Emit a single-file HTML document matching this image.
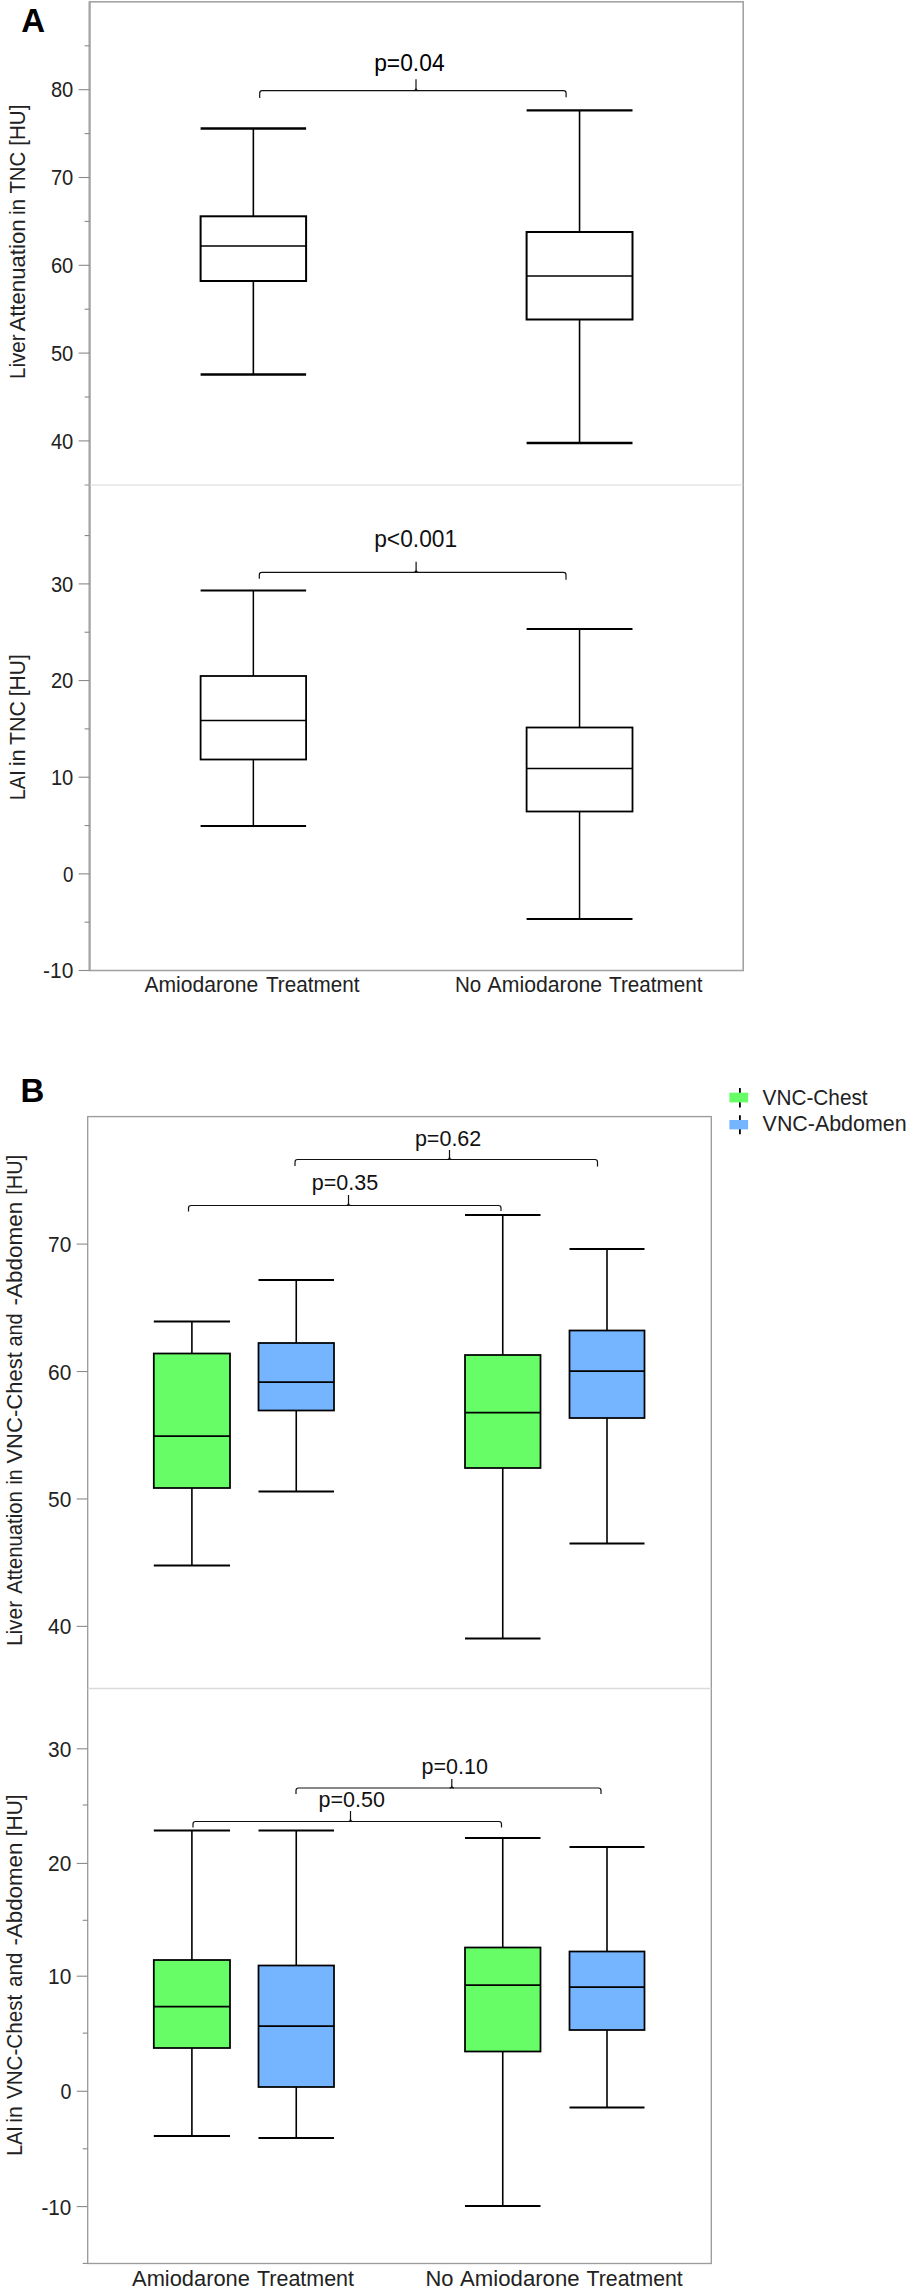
<!DOCTYPE html><html><head><meta charset="utf-8"><title>Figure</title>
<style>html,body{margin:0;padding:0;background:#fff}svg{display:block}text{font-family:"Liberation Sans",sans-serif}</style></head><body>
<svg width="908" height="2290" viewBox="0 0 908 2290">
<rect width="908" height="2290" fill="#fff"/>
<rect x="89.6" y="1.8" width="653.6" height="968.7" fill="none" stroke="#a3a3a3" stroke-width="1.6"/>
<line x1="89.6" y1="1.8" x2="89.6" y2="970.5" stroke="#a3a3a3" stroke-width="2.0" />
<line x1="89.6" y1="485" x2="743.2" y2="485" stroke="#dadada" stroke-width="1.2" />
<line x1="84.6" y1="485" x2="89.6" y2="485" stroke="#9a9a9a" stroke-width="1.1" />
<text x="21.3" y="32.4" font-size="33" text-anchor="start" font-weight="bold" fill="#000">A</text>
<line x1="78.6" y1="89.7" x2="89.6" y2="89.7" stroke="#8a8a8a" stroke-width="1.1" />
<line x1="78.6" y1="177.5" x2="89.6" y2="177.5" stroke="#8a8a8a" stroke-width="1.1" />
<line x1="78.6" y1="265.3" x2="89.6" y2="265.3" stroke="#8a8a8a" stroke-width="1.1" />
<line x1="78.6" y1="353.09999999999997" x2="89.6" y2="353.09999999999997" stroke="#8a8a8a" stroke-width="1.1" />
<line x1="78.6" y1="440.9" x2="89.6" y2="440.9" stroke="#8a8a8a" stroke-width="1.1" />
<line x1="84.6" y1="45.800000000000004" x2="89.6" y2="45.800000000000004" stroke="#8a8a8a" stroke-width="1.1" />
<line x1="84.6" y1="133.6" x2="89.6" y2="133.6" stroke="#8a8a8a" stroke-width="1.1" />
<line x1="84.6" y1="221.39999999999998" x2="89.6" y2="221.39999999999998" stroke="#8a8a8a" stroke-width="1.1" />
<line x1="84.6" y1="309.2" x2="89.6" y2="309.2" stroke="#8a8a8a" stroke-width="1.1" />
<line x1="84.6" y1="396.99999999999994" x2="89.6" y2="396.99999999999994" stroke="#8a8a8a" stroke-width="1.1" />
<text x="73.3" y="97.4" font-size="21.5" text-anchor="end" font-weight="normal" fill="#222" textLength="22.4" lengthAdjust="spacingAndGlyphs">80</text>
<text x="73.3" y="185.2" font-size="21.5" text-anchor="end" font-weight="normal" fill="#222" textLength="22.4" lengthAdjust="spacingAndGlyphs">70</text>
<text x="73.3" y="273.0" font-size="21.5" text-anchor="end" font-weight="normal" fill="#222" textLength="22.4" lengthAdjust="spacingAndGlyphs">60</text>
<text x="73.3" y="360.79999999999995" font-size="21.5" text-anchor="end" font-weight="normal" fill="#222" textLength="22.4" lengthAdjust="spacingAndGlyphs">50</text>
<text x="73.3" y="448.59999999999997" font-size="21.5" text-anchor="end" font-weight="normal" fill="#222" textLength="22.4" lengthAdjust="spacingAndGlyphs">40</text>
<line x1="78.6" y1="583.9" x2="89.6" y2="583.9" stroke="#8a8a8a" stroke-width="1.1" />
<line x1="78.6" y1="680.55" x2="89.6" y2="680.55" stroke="#8a8a8a" stroke-width="1.1" />
<line x1="78.6" y1="777.1999999999999" x2="89.6" y2="777.1999999999999" stroke="#8a8a8a" stroke-width="1.1" />
<line x1="78.6" y1="873.8499999999999" x2="89.6" y2="873.8499999999999" stroke="#8a8a8a" stroke-width="1.1" />
<line x1="78.6" y1="970.5" x2="89.6" y2="970.5" stroke="#8a8a8a" stroke-width="1.1" />
<line x1="84.6" y1="535.5749999999999" x2="89.6" y2="535.5749999999999" stroke="#8a8a8a" stroke-width="1.1" />
<line x1="84.6" y1="632.225" x2="89.6" y2="632.225" stroke="#8a8a8a" stroke-width="1.1" />
<line x1="84.6" y1="728.875" x2="89.6" y2="728.875" stroke="#8a8a8a" stroke-width="1.1" />
<line x1="84.6" y1="825.525" x2="89.6" y2="825.525" stroke="#8a8a8a" stroke-width="1.1" />
<line x1="84.6" y1="922.175" x2="89.6" y2="922.175" stroke="#8a8a8a" stroke-width="1.1" />
<text x="73.3" y="591.6" font-size="21.5" text-anchor="end" font-weight="normal" fill="#222" textLength="22.4" lengthAdjust="spacingAndGlyphs">30</text>
<text x="73.3" y="688.25" font-size="21.5" text-anchor="end" font-weight="normal" fill="#222" textLength="22.4" lengthAdjust="spacingAndGlyphs">20</text>
<text x="73.3" y="784.9" font-size="21.5" text-anchor="end" font-weight="normal" fill="#222" textLength="22.4" lengthAdjust="spacingAndGlyphs">10</text>
<text x="73.3" y="881.55" font-size="21.5" text-anchor="end" font-weight="normal" fill="#222" textLength="10.4" lengthAdjust="spacingAndGlyphs">0</text>
<text x="73.3" y="978.2" font-size="21.5" text-anchor="end" font-weight="normal" fill="#222" textLength="30.2" lengthAdjust="spacingAndGlyphs">-10</text>
<text x="25.0" y="145.67499999999998" font-size="21.5" text-anchor="start" font-weight="normal" fill="#222" textLength="41.0" lengthAdjust="spacingAndGlyphs" transform="rotate(-90 25.0 145.67499999999998)">[HU]</text>
<text x="25.0" y="193.575" font-size="21.5" text-anchor="start" font-weight="normal" fill="#222" textLength="41.8" lengthAdjust="spacingAndGlyphs" transform="rotate(-90 25.0 193.575)">TNC</text>
<text x="25.0" y="215.075" font-size="21.5" text-anchor="start" font-weight="normal" fill="#222" textLength="16.1" lengthAdjust="spacingAndGlyphs" transform="rotate(-90 25.0 215.075)">in</text>
<text x="25.0" y="331.575" font-size="21.5" text-anchor="start" font-weight="normal" fill="#222" textLength="112.1" lengthAdjust="spacingAndGlyphs" transform="rotate(-90 25.0 331.575)">Attenuation</text>
<text x="25.0" y="378.97499999999997" font-size="21.5" text-anchor="start" font-weight="normal" fill="#222" textLength="44.6" lengthAdjust="spacingAndGlyphs" transform="rotate(-90 25.0 378.97499999999997)">Liver</text>
<text x="25.0" y="696.2750000000001" font-size="21.5" text-anchor="start" font-weight="normal" fill="#222" textLength="42.0" lengthAdjust="spacingAndGlyphs" transform="rotate(-90 25.0 696.2750000000001)">[HU]</text>
<text x="25.0" y="745.075" font-size="21.5" text-anchor="start" font-weight="normal" fill="#222" textLength="43.9" lengthAdjust="spacingAndGlyphs" transform="rotate(-90 25.0 745.075)">TNC</text>
<text x="25.0" y="766.2750000000001" font-size="21.5" text-anchor="start" font-weight="normal" fill="#222" textLength="17.1" lengthAdjust="spacingAndGlyphs" transform="rotate(-90 25.0 766.2750000000001)">in</text>
<text x="25.0" y="800.2750000000001" font-size="21.5" text-anchor="start" font-weight="normal" fill="#222" textLength="30.1" lengthAdjust="spacingAndGlyphs" transform="rotate(-90 25.0 800.2750000000001)">LAI</text>
<text x="144.4" y="992.4" font-size="21.5" text-anchor="start" font-weight="normal" fill="#222" textLength="113.8" lengthAdjust="spacingAndGlyphs">Amiodarone</text>
<text x="266.0" y="992.4" font-size="21.5" text-anchor="start" font-weight="normal" fill="#222" textLength="93.5" lengthAdjust="spacingAndGlyphs">Treatment</text>
<text x="454.9" y="992.4" font-size="21.5" text-anchor="start" font-weight="normal" fill="#222" textLength="26.3" lengthAdjust="spacingAndGlyphs">No</text>
<text x="487.6" y="992.4" font-size="21.5" text-anchor="start" font-weight="normal" fill="#222" textLength="114.5" lengthAdjust="spacingAndGlyphs">Amiodarone</text>
<text x="609.1" y="992.4" font-size="21.5" text-anchor="start" font-weight="normal" fill="#222" textLength="93.4" lengthAdjust="spacingAndGlyphs">Treatment</text>
<line x1="253.35000000000002" y1="128.5" x2="253.35000000000002" y2="216.3" stroke="#000" stroke-width="1.6" />
<line x1="253.35000000000002" y1="281.0" x2="253.35000000000002" y2="374.5" stroke="#000" stroke-width="1.6" />
<line x1="200.6" y1="128.5" x2="306.1" y2="128.5" stroke="#000" stroke-width="2.4" />
<line x1="200.6" y1="374.5" x2="306.1" y2="374.5" stroke="#000" stroke-width="2.4" />
<rect x="200.6" y="216.3" width="105.50000000000003" height="64.69999999999999" fill="#fff" stroke="#000" stroke-width="2.0"/>
<line x1="200.6" y1="246.1" x2="306.1" y2="246.1" stroke="#000" stroke-width="1.5" />
<line x1="579.55" y1="110.4" x2="579.55" y2="232" stroke="#000" stroke-width="1.6" />
<line x1="579.55" y1="319.5" x2="579.55" y2="443" stroke="#000" stroke-width="1.6" />
<line x1="526.6" y1="110.4" x2="632.5" y2="110.4" stroke="#000" stroke-width="2.4" />
<line x1="526.6" y1="443" x2="632.5" y2="443" stroke="#000" stroke-width="2.4" />
<rect x="526.6" y="232" width="105.89999999999998" height="87.5" fill="#fff" stroke="#000" stroke-width="2.0"/>
<line x1="526.6" y1="276" x2="632.5" y2="276" stroke="#000" stroke-width="1.5" />
<line x1="253.35000000000002" y1="590.5" x2="253.35000000000002" y2="676" stroke="#000" stroke-width="1.5" />
<line x1="253.35000000000002" y1="759.5" x2="253.35000000000002" y2="826" stroke="#000" stroke-width="1.5" />
<line x1="200.6" y1="590.5" x2="306.1" y2="590.5" stroke="#000" stroke-width="2.1" />
<line x1="200.6" y1="826" x2="306.1" y2="826" stroke="#000" stroke-width="2.1" />
<rect x="200.6" y="676" width="105.50000000000003" height="83.5" fill="#fff" stroke="#000" stroke-width="1.8"/>
<line x1="200.6" y1="720.5" x2="306.1" y2="720.5" stroke="#000" stroke-width="1.6" />
<line x1="579.55" y1="629" x2="579.55" y2="727.5" stroke="#000" stroke-width="1.5" />
<line x1="579.55" y1="811.5" x2="579.55" y2="919" stroke="#000" stroke-width="1.5" />
<line x1="526.6" y1="629" x2="632.5" y2="629" stroke="#000" stroke-width="2.0" />
<line x1="526.6" y1="919" x2="632.5" y2="919" stroke="#000" stroke-width="2.0" />
<rect x="526.6" y="727.5" width="105.89999999999998" height="84.0" fill="#fff" stroke="#000" stroke-width="1.8"/>
<line x1="526.6" y1="768.5" x2="632.5" y2="768.5" stroke="#000" stroke-width="1.6" />
<path d="M259.7 98 L259.7 93.2 Q259.7 90.7 262.2 90.7 L563.6 90.7 Q566.1 90.7 566.1 93.2 L566.1 97.3" fill="none" stroke="#111" stroke-width="1.2"/>
<path d="M413.8 90.7 Q416 90.7 416 88.10000000000001 L416 79.2 L416 88.10000000000001 Q416 90.7 418.2 90.7" fill="none" stroke="#111" stroke-width="1.2"/>
<text x="374.2" y="71.3" font-size="23" text-anchor="start" font-weight="normal" fill="#000" textLength="70.4" lengthAdjust="spacingAndGlyphs">p=0.04</text>
<path d="M259.3 578.8 L259.3 574.8 Q259.3 572.3 261.8 572.3 L563.5 572.3 Q566.0 572.3 566.0 574.8 L566.0 579.8" fill="none" stroke="#111" stroke-width="1.2"/>
<path d="M413.90000000000003 572.3 Q416.1 572.3 416.1 569.6999999999999 L416.1 561.8 L416.1 569.6999999999999 Q416.1 572.3 418.3 572.3" fill="none" stroke="#111" stroke-width="1.2"/>
<text x="374.2" y="546.9" font-size="23.2" text-anchor="start" font-weight="normal" fill="#111" textLength="83" lengthAdjust="spacingAndGlyphs">p&lt;0.001</text>
<rect x="87.7" y="1116.6" width="623.5999999999999" height="1146.9" fill="none" stroke="#9c9c9c" stroke-width="1.35"/>
<line x1="87.7" y1="1688.5" x2="711.3" y2="1688.5" stroke="#dadada" stroke-width="1.3" />
<text x="20.6" y="1102" font-size="33" text-anchor="start" font-weight="bold" fill="#000">B</text>
<line x1="76.7" y1="1244.1" x2="87.7" y2="1244.1" stroke="#8a8a8a" stroke-width="1.1" />
<line x1="76.7" y1="1371.53" x2="87.7" y2="1371.53" stroke="#8a8a8a" stroke-width="1.1" />
<line x1="76.7" y1="1498.96" x2="87.7" y2="1498.96" stroke="#8a8a8a" stroke-width="1.1" />
<line x1="76.7" y1="1626.3899999999999" x2="87.7" y2="1626.3899999999999" stroke="#8a8a8a" stroke-width="1.1" />
<text x="71.3" y="1252.1" font-size="22.5" text-anchor="end" font-weight="normal" fill="#222" textLength="23.2" lengthAdjust="spacingAndGlyphs">70</text>
<text x="71.3" y="1379.53" font-size="22.5" text-anchor="end" font-weight="normal" fill="#222" textLength="23.2" lengthAdjust="spacingAndGlyphs">60</text>
<text x="71.3" y="1506.96" font-size="22.5" text-anchor="end" font-weight="normal" fill="#222" textLength="23.2" lengthAdjust="spacingAndGlyphs">50</text>
<text x="71.3" y="1634.3899999999999" font-size="22.5" text-anchor="end" font-weight="normal" fill="#222" textLength="23.2" lengthAdjust="spacingAndGlyphs">40</text>
<line x1="76.7" y1="1748.8" x2="87.7" y2="1748.8" stroke="#8a8a8a" stroke-width="1.1" />
<line x1="76.7" y1="1863.4" x2="87.7" y2="1863.4" stroke="#8a8a8a" stroke-width="1.1" />
<line x1="76.7" y1="1976.2" x2="87.7" y2="1976.2" stroke="#8a8a8a" stroke-width="1.1" />
<line x1="76.7" y1="2091.3" x2="87.7" y2="2091.3" stroke="#8a8a8a" stroke-width="1.1" />
<line x1="76.7" y1="2206.6" x2="87.7" y2="2206.6" stroke="#8a8a8a" stroke-width="1.1" />
<line x1="82.7" y1="1805" x2="87.7" y2="1805" stroke="#8a8a8a" stroke-width="1.1" />
<line x1="82.7" y1="1920.3" x2="87.7" y2="1920.3" stroke="#8a8a8a" stroke-width="1.1" />
<line x1="82.7" y1="2033.1" x2="87.7" y2="2033.1" stroke="#8a8a8a" stroke-width="1.1" />
<line x1="82.7" y1="2148.8" x2="87.7" y2="2148.8" stroke="#8a8a8a" stroke-width="1.1" />
<line x1="82.7" y1="2263.4" x2="87.7" y2="2263.4" stroke="#8a8a8a" stroke-width="1.1" />
<text x="71.3" y="1756.8" font-size="22.5" text-anchor="end" font-weight="normal" fill="#222" textLength="23.2" lengthAdjust="spacingAndGlyphs">30</text>
<text x="71.3" y="1871.4" font-size="22.5" text-anchor="end" font-weight="normal" fill="#222" textLength="23.2" lengthAdjust="spacingAndGlyphs">20</text>
<text x="71.3" y="1984.2" font-size="22.5" text-anchor="end" font-weight="normal" fill="#222" textLength="23.2" lengthAdjust="spacingAndGlyphs">10</text>
<text x="71.3" y="2099.3" font-size="22.5" text-anchor="end" font-weight="normal" fill="#222" textLength="10.9" lengthAdjust="spacingAndGlyphs">0</text>
<text x="71.3" y="2214.6" font-size="22.5" text-anchor="end" font-weight="normal" fill="#222" textLength="29.9" lengthAdjust="spacingAndGlyphs">-10</text>
<text x="21.9" y="1194.8" font-size="22" text-anchor="start" font-weight="normal" fill="#222" textLength="39.9" lengthAdjust="spacingAndGlyphs" transform="rotate(-90 21.9 1194.8)">[HU]</text>
<text x="21.9" y="1305.5" font-size="22" text-anchor="start" font-weight="normal" fill="#222" textLength="103.9" lengthAdjust="spacingAndGlyphs" transform="rotate(-90 21.9 1305.5)">-Abdomen</text>
<text x="21.9" y="1346.3999999999999" font-size="22" text-anchor="start" font-weight="normal" fill="#222" textLength="33.0" lengthAdjust="spacingAndGlyphs" transform="rotate(-90 21.9 1346.3999999999999)">and</text>
<text x="21.9" y="1463.6" font-size="22" text-anchor="start" font-weight="normal" fill="#222" textLength="111.4" lengthAdjust="spacingAndGlyphs" transform="rotate(-90 21.9 1463.6)">VNC-Chest</text>
<text x="21.9" y="1484.6" font-size="22" text-anchor="start" font-weight="normal" fill="#222" textLength="15.2" lengthAdjust="spacingAndGlyphs" transform="rotate(-90 21.9 1484.6)">in</text>
<text x="21.9" y="1593.8" font-size="22" text-anchor="start" font-weight="normal" fill="#222" textLength="102.5" lengthAdjust="spacingAndGlyphs" transform="rotate(-90 21.9 1593.8)">Attenuation</text>
<text x="21.9" y="1646.1" font-size="22" text-anchor="start" font-weight="normal" fill="#222" textLength="45.2" lengthAdjust="spacingAndGlyphs" transform="rotate(-90 21.9 1646.1)">Liver</text>
<text x="21.9" y="1836.1999999999998" font-size="22" text-anchor="start" font-weight="normal" fill="#222" textLength="41.9" lengthAdjust="spacingAndGlyphs" transform="rotate(-90 21.9 1836.1999999999998)">[HU]</text>
<text x="21.9" y="1945.5" font-size="22" text-anchor="start" font-weight="normal" fill="#222" textLength="102.9" lengthAdjust="spacingAndGlyphs" transform="rotate(-90 21.9 1945.5)">-Abdomen</text>
<text x="21.9" y="1987.0" font-size="22" text-anchor="start" font-weight="normal" fill="#222" textLength="34.4" lengthAdjust="spacingAndGlyphs" transform="rotate(-90 21.9 1987.0)">and</text>
<text x="21.9" y="2099.1" font-size="22" text-anchor="start" font-weight="normal" fill="#222" textLength="104.3" lengthAdjust="spacingAndGlyphs" transform="rotate(-90 21.9 2099.1)">VNC-Chest</text>
<text x="21.9" y="2122.7" font-size="22" text-anchor="start" font-weight="normal" fill="#222" textLength="16.5" lengthAdjust="spacingAndGlyphs" transform="rotate(-90 21.9 2122.7)">in</text>
<text x="21.9" y="2155.7" font-size="22" text-anchor="start" font-weight="normal" fill="#222" textLength="29.4" lengthAdjust="spacingAndGlyphs" transform="rotate(-90 21.9 2155.7)">LAI</text>
<text x="132.1" y="2286.3" font-size="22" text-anchor="start" font-weight="normal" fill="#222" textLength="117.8" lengthAdjust="spacingAndGlyphs">Amiodarone</text>
<text x="257.0" y="2286.3" font-size="22" text-anchor="start" font-weight="normal" fill="#222" textLength="97.0" lengthAdjust="spacingAndGlyphs">Treatment</text>
<text x="425.4" y="2286.3" font-size="22" text-anchor="start" font-weight="normal" fill="#222" textLength="28.0" lengthAdjust="spacingAndGlyphs">No</text>
<text x="460.1" y="2286.3" font-size="22" text-anchor="start" font-weight="normal" fill="#222" textLength="119.5" lengthAdjust="spacingAndGlyphs">Amiodarone</text>
<text x="586.6" y="2286.3" font-size="22" text-anchor="start" font-weight="normal" fill="#222" textLength="96.1" lengthAdjust="spacingAndGlyphs">Treatment</text>
<line x1="191.9" y1="1321.5" x2="191.9" y2="1353.5" stroke="#000" stroke-width="1.6" />
<line x1="191.9" y1="1488" x2="191.9" y2="1565.5" stroke="#000" stroke-width="1.6" />
<line x1="153.8" y1="1321.5" x2="230" y2="1321.5" stroke="#000" stroke-width="1.8" />
<line x1="153.8" y1="1565.5" x2="230" y2="1565.5" stroke="#000" stroke-width="1.8" />
<rect x="153.8" y="1353.5" width="76.19999999999999" height="134.5" fill="#66fd66" stroke="#000" stroke-width="1.75"/>
<line x1="153.8" y1="1436" x2="230" y2="1436" stroke="#000" stroke-width="1.75" />
<line x1="296.25" y1="1280" x2="296.25" y2="1343" stroke="#000" stroke-width="1.6" />
<line x1="296.25" y1="1410.5" x2="296.25" y2="1491.5" stroke="#000" stroke-width="1.6" />
<line x1="258.5" y1="1280" x2="334" y2="1280" stroke="#000" stroke-width="1.8" />
<line x1="258.5" y1="1491.5" x2="334" y2="1491.5" stroke="#000" stroke-width="1.8" />
<rect x="258.5" y="1343" width="75.5" height="67.5" fill="#75b4fe" stroke="#000" stroke-width="1.75"/>
<line x1="258.5" y1="1382" x2="334" y2="1382" stroke="#000" stroke-width="1.75" />
<line x1="502.75" y1="1215" x2="502.75" y2="1355" stroke="#000" stroke-width="1.6" />
<line x1="502.75" y1="1468" x2="502.75" y2="1638.5" stroke="#000" stroke-width="1.6" />
<line x1="465" y1="1215" x2="540.5" y2="1215" stroke="#000" stroke-width="1.8" />
<line x1="465" y1="1638.5" x2="540.5" y2="1638.5" stroke="#000" stroke-width="1.8" />
<rect x="465" y="1355" width="75.5" height="113" fill="#66fd66" stroke="#000" stroke-width="1.75"/>
<line x1="465" y1="1412.5" x2="540.5" y2="1412.5" stroke="#000" stroke-width="1.75" />
<line x1="607.0" y1="1249" x2="607.0" y2="1330.5" stroke="#000" stroke-width="1.6" />
<line x1="607.0" y1="1418" x2="607.0" y2="1543.5" stroke="#000" stroke-width="1.6" />
<line x1="569.5" y1="1249" x2="644.5" y2="1249" stroke="#000" stroke-width="1.8" />
<line x1="569.5" y1="1543.5" x2="644.5" y2="1543.5" stroke="#000" stroke-width="1.8" />
<rect x="569.5" y="1330.5" width="75.0" height="87.5" fill="#75b4fe" stroke="#000" stroke-width="1.75"/>
<line x1="569.5" y1="1371" x2="644.5" y2="1371" stroke="#000" stroke-width="1.75" />
<line x1="191.9" y1="1830.5" x2="191.9" y2="1960" stroke="#000" stroke-width="1.6" />
<line x1="191.9" y1="2048" x2="191.9" y2="2136" stroke="#000" stroke-width="1.6" />
<line x1="153.8" y1="1830.5" x2="230" y2="1830.5" stroke="#000" stroke-width="1.8" />
<line x1="153.8" y1="2136" x2="230" y2="2136" stroke="#000" stroke-width="1.8" />
<rect x="153.8" y="1960" width="76.19999999999999" height="88" fill="#66fd66" stroke="#000" stroke-width="1.75"/>
<line x1="153.8" y1="2006.5" x2="230" y2="2006.5" stroke="#000" stroke-width="1.75" />
<line x1="296.25" y1="1830.5" x2="296.25" y2="1965.5" stroke="#000" stroke-width="1.6" />
<line x1="296.25" y1="2087" x2="296.25" y2="2138" stroke="#000" stroke-width="1.6" />
<line x1="258.5" y1="1830.5" x2="334" y2="1830.5" stroke="#000" stroke-width="1.8" />
<line x1="258.5" y1="2138" x2="334" y2="2138" stroke="#000" stroke-width="1.8" />
<rect x="258.5" y="1965.5" width="75.5" height="121.5" fill="#75b4fe" stroke="#000" stroke-width="1.75"/>
<line x1="258.5" y1="2026" x2="334" y2="2026" stroke="#000" stroke-width="1.75" />
<line x1="502.75" y1="1838" x2="502.75" y2="1947.5" stroke="#000" stroke-width="1.6" />
<line x1="502.75" y1="2051.5" x2="502.75" y2="2206" stroke="#000" stroke-width="1.6" />
<line x1="465" y1="1838" x2="540.5" y2="1838" stroke="#000" stroke-width="1.8" />
<line x1="465" y1="2206" x2="540.5" y2="2206" stroke="#000" stroke-width="1.8" />
<rect x="465" y="1947.5" width="75.5" height="104.0" fill="#66fd66" stroke="#000" stroke-width="1.75"/>
<line x1="465" y1="1985" x2="540.5" y2="1985" stroke="#000" stroke-width="1.75" />
<line x1="607.0" y1="1847" x2="607.0" y2="1951.5" stroke="#000" stroke-width="1.6" />
<line x1="607.0" y1="2030" x2="607.0" y2="2107.5" stroke="#000" stroke-width="1.6" />
<line x1="569.5" y1="1847" x2="644.5" y2="1847" stroke="#000" stroke-width="1.8" />
<line x1="569.5" y1="2107.5" x2="644.5" y2="2107.5" stroke="#000" stroke-width="1.8" />
<rect x="569.5" y="1951.5" width="75.0" height="78.5" fill="#75b4fe" stroke="#000" stroke-width="1.75"/>
<line x1="569.5" y1="1987" x2="644.5" y2="1987" stroke="#000" stroke-width="1.75" />
<path d="M188.5 1211.5 L188.5 1208.0 Q188.5 1205.5 191.0 1205.5 L498.5 1205.5 Q501 1205.5 501 1208.0 L501 1211" fill="none" stroke="#111" stroke-width="1.2"/>
<path d="M346.3 1205.5 Q348.5 1205.5 348.5 1202.9 L348.5 1195 L348.5 1202.9 Q348.5 1205.5 350.7 1205.5" fill="none" stroke="#111" stroke-width="1.2"/>
<text x="311.8" y="1189.6" font-size="22" text-anchor="start" font-weight="normal" fill="#111" textLength="66.4" lengthAdjust="spacingAndGlyphs">p=0.35</text>
<path d="M295 1166 L295 1162.0 Q295 1159.5 297.5 1159.5 L595.0 1159.5 Q597.5 1159.5 597.5 1162.0 L597.5 1166.5" fill="none" stroke="#111" stroke-width="1.2"/>
<path d="M447.3 1159.5 Q449.5 1159.5 449.5 1156.9 L449.5 1150 L449.5 1156.9 Q449.5 1159.5 451.7 1159.5" fill="none" stroke="#111" stroke-width="1.2"/>
<text x="414.9" y="1146" font-size="22" text-anchor="start" font-weight="normal" fill="#111" textLength="66.4" lengthAdjust="spacingAndGlyphs">p=0.62</text>
<path d="M193 1827.5 L193 1824.0 Q193 1821.5 195.5 1821.5 L499.0 1821.5 Q501.5 1821.5 501.5 1824.0 L501.5 1827.5" fill="none" stroke="#111" stroke-width="1.2"/>
<path d="M348.3 1821.5 Q350.5 1821.5 350.5 1818.9 L350.5 1811 L350.5 1818.9 Q350.5 1821.5 352.7 1821.5" fill="none" stroke="#111" stroke-width="1.2"/>
<text x="318.5" y="1807.3" font-size="22" text-anchor="start" font-weight="normal" fill="#111" textLength="66.4" lengthAdjust="spacingAndGlyphs">p=0.50</text>
<path d="M296 1794 L296 1790.5 Q296 1788 298.5 1788 L598.5 1788 Q601 1788 601 1790.5 L601 1794" fill="none" stroke="#111" stroke-width="1.2"/>
<path d="M449.6 1788 Q451.8 1788 451.8 1785.4 L451.8 1779 L451.8 1785.4 Q451.8 1788 454.0 1788" fill="none" stroke="#111" stroke-width="1.2"/>
<text x="421.5" y="1774.3" font-size="22" text-anchor="start" font-weight="normal" fill="#111" textLength="66.4" lengthAdjust="spacingAndGlyphs">p=0.10</text>
<line x1="739.9" y1="1088" x2="739.9" y2="1107.4" stroke="#000" stroke-width="1.8" />
<rect x="729.4" y="1092.7" width="18.7" height="9.7" fill="#66fd66"/>
<line x1="739.9" y1="1115.2" x2="739.9" y2="1134.3" stroke="#000" stroke-width="1.8" />
<rect x="729.4" y="1120" width="18.7" height="9.4" fill="#75b4fe"/>
<text x="762.6" y="1104.8" font-size="22" text-anchor="start" font-weight="normal" fill="#222" textLength="105" lengthAdjust="spacingAndGlyphs">VNC-Chest</text>
<text x="762.6" y="1130.8" font-size="22" text-anchor="start" font-weight="normal" fill="#222" textLength="144" lengthAdjust="spacingAndGlyphs">VNC-Abdomen</text>
</svg></body></html>
